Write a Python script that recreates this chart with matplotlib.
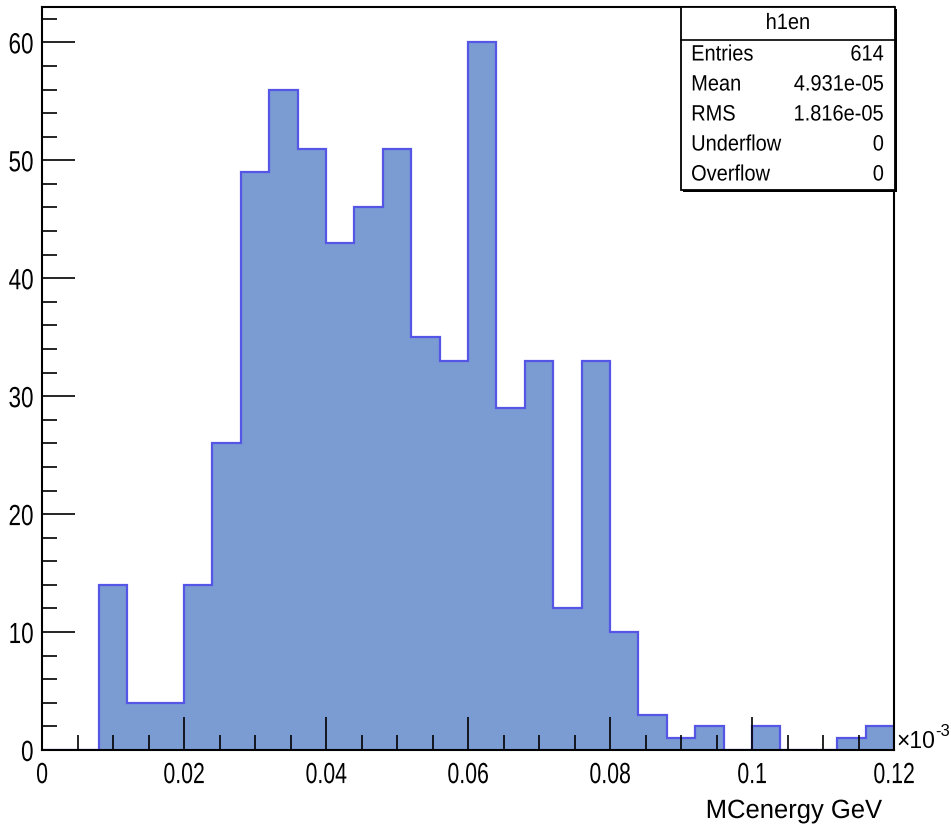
import numpy as np
import matplotlib
matplotlib.use("Agg")
import matplotlib.pyplot as plt
from matplotlib.ticker import MultipleLocator, FixedLocator
from matplotlib.patheffects import AbstractPathEffect
from matplotlib.transforms import Affine2D

plt.rcParams['font.family'] = ['Liberation Sans', 'DejaVu Sans']

# Histogram data (x in units of 1e-3 GeV)
bin_edges = np.linspace(0.0, 0.12, 31)
counts = [0, 0, 14, 4, 4, 14, 26, 49, 56, 51, 43, 46, 51, 35, 33, 60,
          29, 33, 12, 33, 10, 3, 1, 2, 0, 2, 0, 0, 1, 2]
x_ticks = [0, 0.02, 0.04, 0.06, 0.08, 0.1, 0.12]
x_ticklabels = ["0", "0.02", "0.04", "0.06", "0.08", "0.1", "0.12"]
y_ticks = [0, 10, 20, 30, 40, 50, 60]
stats_names = ["Entries", "Mean", "RMS", "Underflow", "Overflow"]
stats_values = ["614", "4.931e-05", "1.816e-05", "0", "0"]
hist_name = "h1en"


class HSqueeze(AbstractPathEffect):
    """Compress text horizontally around its alignment anchor."""
    def __init__(self, s, anchor='center'):
        super().__init__()
        self.s = s
        self.anchor = anchor

    def draw_path(self, renderer, gc, tpath, affine, rgbFace=None):
        ext = tpath.get_extents()
        if self.anchor == 'left':
            a = ext.x0
        elif self.anchor == 'right':
            a = ext.x1
        else:
            a = 0.5 * (ext.x0 + ext.x1)
        t = Affine2D().translate(-a, 0).scale(self.s, 1).translate(a, 0) + affine
        renderer.draw_path(gc, tpath, t, rgbFace)


fig = plt.figure(figsize=(9.51, 8.31), dpi=100)
ax = fig.add_axes([0.0442, 0.0975, 0.8959, 0.8941])

ax.stairs(counts, bin_edges, fill=True, color='#7b9bd3', baseline=0)
ax.stairs(counts, bin_edges, fill=False, color='#5555e6', linewidth=1.6, baseline=0)

ax.set_xlim(0, 0.12)
ax.set_ylim(0, 63)
ax.xaxis.set_major_locator(FixedLocator(x_ticks))
ax.set_xticklabels(x_ticklabels)
ax.xaxis.set_minor_locator(MultipleLocator(0.005))
ax.yaxis.set_major_locator(FixedLocator(y_ticks))
ax.yaxis.set_minor_locator(MultipleLocator(2))
ax.tick_params(axis='both', which='major', direction='in', length=24, width=1.2,
               labelsize=21, top=False, right=False, color='black')
ax.tick_params(axis='both', which='minor', direction='in', length=11, width=1.2,
               top=False, right=False)
ax.tick_params(axis='x', which='major', pad=8)
ax.tick_params(axis='y', which='major', pad=6)
for sp in ax.spines.values():
    sp.set_linewidth(1.5)
ax.set_axisbelow(False)

for lbl in ax.get_xticklabels():
    lbl.set_path_effects([HSqueeze(0.73, 'center')])
for lbl in ax.get_yticklabels():
    lbl.set_path_effects([HSqueeze(0.77, 'right')])

fig.text(882 / 951, 1 - 818 / 831, "MCenergy GeV", ha='right', va='baseline',
         fontsize=19, path_effects=[HSqueeze(0.97, 'right')])
fig.text(896 / 951, 1 - 748 / 831, "\u00d710", ha='left', va='baseline', fontsize=16.5)
fig.text(935 / 951, 1 - 736 / 831, "-3", ha='left', va='baseline', fontsize=12)

# Stats box
bx0, bx1 = 681 / 951, 895 / 951
by_top, by_bot = 1 - 7 / 831, 1 - 190 / 831
by_title = 1 - 40 / 831
fig.patches.append(plt.Rectangle((bx0 + 0.002, by_bot - 0.003), bx1 - bx0, by_top - by_bot,
                                 transform=fig.transFigure, facecolor='black',
                                 edgecolor='none', zorder=5))
fig.patches.append(plt.Rectangle((bx0, by_bot), bx1 - bx0, by_top - by_bot,
                                 transform=fig.transFigure, facecolor='white',
                                 edgecolor='black', linewidth=1.3, zorder=6))
fig.lines.append(plt.Line2D([bx0, bx1], [by_title, by_title], transform=fig.transFigure,
                            color='black', linewidth=1.2, zorder=7))
fig.text((bx0 + bx1) / 2, (by_top + by_title) / 2, hist_name, ha='center', va='center',
         fontsize=16, zorder=8, path_effects=[HSqueeze(0.9, 'center')])
row_h = (by_title - by_bot) / len(stats_names)
for i, (n, v) in enumerate(zip(stats_names, stats_values)):
    yy = by_title - (i + 0.5) * row_h
    fig.text(bx0 + 10 / 951, yy, n, ha='left', va='center', fontsize=16, zorder=8,
             path_effects=[HSqueeze(0.9, 'left')])
    fig.text(bx1 - 11 / 951, yy, v, ha='right', va='center', fontsize=16, zorder=8,
             path_effects=[HSqueeze(0.9, 'right')])

fig.savefig("out.png", dpi=100)
